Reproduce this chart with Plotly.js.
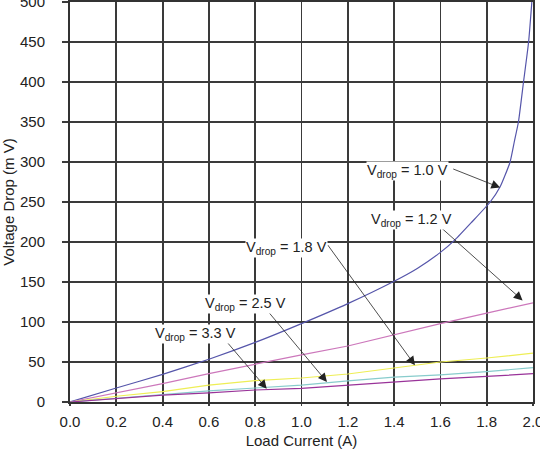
<!DOCTYPE html>
<html><head><meta charset="utf-8">
<script src="https://cdn.plot.ly/plotly-3.0.1.min.js"></script>
<style>html,body{margin:0;padding:0;background:#fff;overflow:hidden;}#c{width:540px;height:449px;}</style>
</head><body><div id="c"></div>
<script>
// Vdrop = 1.0 V curve
const x10 = [0, 0.2, 0.4, 0.6, 0.8, 1.0, 1.2, 1.4, 1.5, 1.6, 1.664, 1.736, 1.815, 1.858, 1.901, 1.919, 1.937, 1.959, 1.981, 1.995];
const y10 = [0, 17.5, 34.5, 53.5, 74.5, 98, 123, 151, 167, 187, 203, 225, 250, 269, 300, 325, 350, 400, 450, 500];
// other curves share a common current grid
const xGrid = [0, 0.2, 0.4, 0.6, 0.8, 1.0, 1.2, 1.4, 1.6, 1.8, 2.0];
const y12 = [0, 11.3, 23, 35.5, 47.5, 59, 70, 84, 98, 111, 124];
const y18 = [0, 7.2, 13, 21, 26.7, 30, 35, 42.5, 50, 55, 61];
const y25 = [0, 4.5, 9.5, 14, 17.5, 21, 26.5, 31, 34, 38, 43];
const y33 = [0, 4, 8.5, 11.4, 15, 17, 21, 25.4, 29, 32, 35.4];

const labels = ['1.0', '1.2', '1.8', '2.5', '3.3'];
// label centers and arrows (text pos, tail, tip) in data units
const labelX = [1.46, 1.475, 0.935, 0.757, 0.544];
const labelY = [289, 227, 193, 123, 85.5];
const tailX = [1.649, 1.599, 1.109, 0.856, 0.669];
const tailY = [292, 219, 198, 113, 78];
const tipX = [1.858, 1.955, 1.49, 1.11, 0.85];
const tipY = [268, 127, 46, 25, 16.5];

const colors = ['#5555aa', '#cc77bb', '#eeee55', '#88cccc', '#993399'];
const traces = [
  {x: x10, y: y10, mode: 'lines', line: {color: colors[0], width: 1.2, shape: 'spline', smoothing: 0.5}},
  {x: xGrid, y: y12, mode: 'lines', line: {color: colors[1], width: 1.2}},
  {x: xGrid, y: y18, mode: 'lines', line: {color: colors[2], width: 1.2}},
  {x: xGrid, y: y25, mode: 'lines', line: {color: colors[3], width: 1.2}},
  {x: xGrid, y: y33, mode: 'lines', line: {color: colors[4], width: 1.2}}
];

const FONT = 'Liberation Sans, Arial, sans-serif';
const ann = [];
for (let i = 0; i < labels.length; i++) {
  ann.push({x: tipX[i], y: tipY[i], xref: 'x', yref: 'y', ax: tailX[i], ay: tailY[i],
    axref: 'x', ayref: 'y', text: '', showarrow: true, arrowhead: 2, arrowsize: 2.2,
    arrowwidth: 0.8, arrowcolor: '#222'});
  ann.push({x: labelX[i], y: labelY[i], xref: 'x', yref: 'y', showarrow: false,
    text: 'V<sub>drop</sub> = ' + labels[i] + ' V', bgcolor: '#ffffff',
    font: {family: FONT, size: 14.5, color: '#222'}, borderpad: 0});
}

const axCommon = {
  showgrid: true, gridcolor: '#3a3a3a', gridwidth: 1.8,
  showline: true, linecolor: '#333', linewidth: 2, mirror: true,
  ticks: 'outside', tickcolor: '#3a3a3a', tickwidth: 1.8,
  zeroline: false, ticklabeloverflow: 'allow',
  tickfont: {family: FONT, size: 15, color: '#222'}
};

const layout = {
  width: 540, height: 449,
  margin: {l: 70, r: 7, t: 2, b: 47},
  paper_bgcolor: '#fff', plot_bgcolor: '#fff',
  showlegend: false,
  xaxis: Object.assign({}, axCommon, {range: [0, 2], tickvals: xGrid, ticktext: xGrid.map(v => v.toFixed(1)), ticklen: 2,
    ticklabelstandoff: 3,
    title: {text: 'Load Current (A)', standoff: 10, font: {family: FONT, size: 15, color: '#222'}}}),
  yaxis: Object.assign({}, axCommon, {range: [0, 500], dtick: 50, ticklen: 6, ticklabelstandoff: 14,
    title: {text: 'Voltage Drop (m V)', standoff: 6, font: {family: FONT, size: 15, color: '#222'}}}),
  annotations: ann
};

Plotly.newPlot('c', traces, layout, {staticPlot: true, displayModeBar: false});
</script></body></html>
